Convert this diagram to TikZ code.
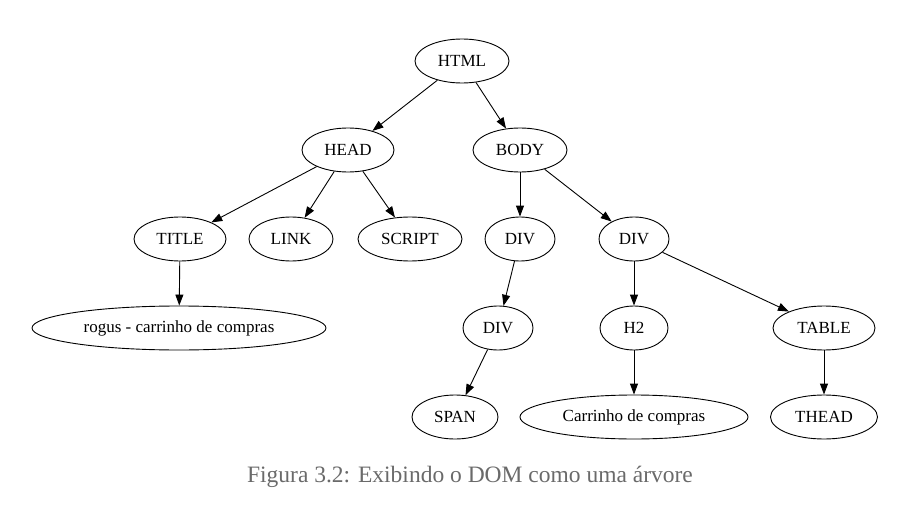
\documentclass[tikz,border=0pt]{standalone}
\usepackage{fontspec}
\setmainfont{Liberation Serif}
\usepackage{tikz}
\usetikzlibrary{shapes.geometric,arrows.meta}
\definecolor{captiongray}{HTML}{6A6A6A}

\begin{document}
\begin{tikzpicture}[x=1pt, y=-1pt, >={Triangle[length=11pt,width=8pt]}, line width=0.9pt]
\useasboundingbox (0,0) rectangle (905,508);

\tikzstyle{every node}=[ellipse, draw, inner sep=0pt, minimum height=44pt, font=\fontsize{17}{19}\selectfont]
\draw    (462, 61)  node[minimum width=94pt] (html) {HTML}
         (348, 150) node[minimum width=92pt] (head) {HEAD}
         (520, 150) node[minimum width=94pt] (body) {BODY}
         (180, 239) node[minimum width=92pt] (title) {TITLE}
         (291, 239) node[minimum width=84pt] (link) {LINK}
         (410, 239) node[minimum width=104pt] (script) {SCRIPT}
         (520, 239) node[minimum width=70pt] (div1) {DIV}
         (634, 239) node[minimum width=70pt] (div2) {DIV}
         (179, 328) node[minimum width=294pt] (rogus) {rogus - carrinho de compras}
         (498, 328) node[minimum width=70pt] (div3) {DIV}
         (634, 328) node[minimum width=68pt] (h2) {H2}
         (824, 328) node[minimum width=102pt] (table) {TABLE}
         (455, 417) node[minimum width=86pt] (span) {SPAN}
         (634, 417) node[minimum width=228pt] (carrinho) {Carrinho de compras}
         (824, 417) node[minimum width=107pt] (thead) {THEAD};

\tikzstyle{every node}=[text=captiongray, font=\fontsize{23.5}{26}\selectfont]
\node (caption) at (470, 477) {Figura 3.2: Exibindo o DOM como uma árvore};

\draw [->] (html) -- (head);
\draw [->] (html) -- (body);
\draw [->] (head) -- (title);
\draw [->] (head) -- (link);
\draw [->] (head) -- (script);
\draw [->] (body) -- (div1);
\draw [->] (body) -- (div2);
\draw [->] (title) -- (rogus);
\draw [->] (div1) -- (div3);
\draw [->] (div2) -- (h2);
\draw [->] (div2) -- (table);
\draw [->] (div3) -- (span);
\draw [->] (h2) -- (carrinho);
\draw [->] (table) -- (thead);

\end{tikzpicture}
\end{document}
